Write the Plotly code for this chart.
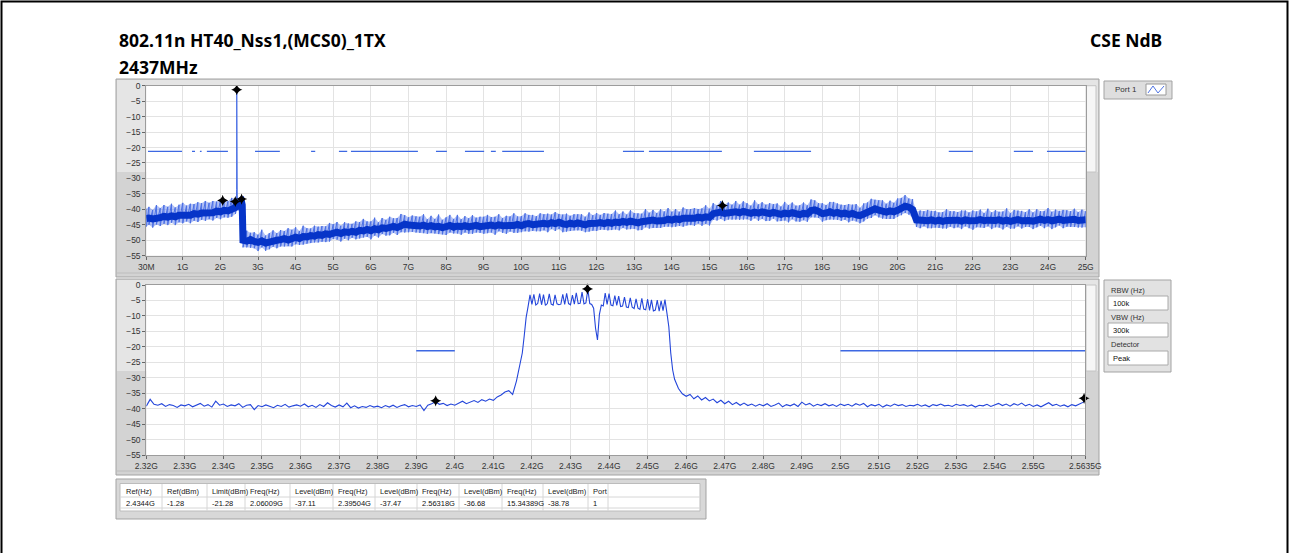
import numpy as np
import plotly.graph_objects as go

W, H = 1290, 553
UI_FONT = "Liberation Sans"
TITLE_FONT = "Noto Sans"

# =============================================================================
# DATA
# =============================================================================
# ---- top graph : 30 MHz .. 25 GHz (GHz / dBm) ----
# below the carrier
top_freq_low = [0.03, 0.1, 0.2, 0.3, 0.4, 0.5, 0.6, 0.7, 0.8, 0.9, 1.0, 1.1, 1.2,
                1.3, 1.4, 1.5, 1.6, 1.7, 1.8, 1.9, 2.0, 2.1, 2.2, 2.3, 2.4]
top_mid_low = [-43.0, -42.8, -43.1, -42.6, -42.7, -42.3, -42.5, -42.1, -42.4, -41.9,
               -42.0, -41.7, -41.9, -41.4, -41.6, -41.2, -41.3, -40.9, -41.1, -40.6,
               -40.8, -40.3, -40.5, -40.0, -39.4]
top_up_low = [3.2, 3.6, 2.9, 4.0, 3.1, 3.7, 3.3, 3.9, 3.0, 3.4, 4.1, 2.9, 3.7, 3.1,
              3.9, 3.2, 4.0, 3.0, 3.8, 3.1, 3.6, 3.5, 3.1, 3.7, 3.0]
top_dn_low = [2.6, 2.2, 2.8, 2.3, 2.7, 2.4, 2.6, 2.2, 2.7, 2.3, 2.5, 2.2, 2.6, 2.3,
              2.5, 2.2, 2.4, 2.3, 2.5, 2.2, 2.4, 2.3, 2.2, 2.4, 2.1]

# around the carrier (spike at 2.4344 GHz)
top_freq_car = [2.42, 2.43, 2.434, 2.438, 2.45, 2.48, 2.52, 2.56, 2.58]
top_mid_car = [-38.6, -37.4, None, -37.2, -38.0, -38.3, -37.8, -37.5, -38.6]
top_hi_car = [-36.8, -33.5, -1.28, -33.0, -35.8, -36.4, -36.0, -35.6, -36.9]
top_lo_car = [-40.4, -39.6, -38.8, -39.7, -40.1, -40.3, -39.9, -39.7, -40.4]

# above the carrier, sweep points every 100 MHz from 2.6 GHz to 25 GHz
top_freq_high = np.round(np.arange(2.6, 25.0001, 0.1), 2)
top_mid_high = [
    -50.0, -50.3, -49.8, -50.4, -50.7, -50.2, -50.9, -50.6, -50.1, -50.0,
    -49.8, -49.5, -49.9, -49.3, -49.0, -49.4, -48.8, -48.9, -48.5, -48.7,
    -48.2, -48.4, -47.9, -48.1, -47.6, -47.4, -47.8, -47.3, -47.5, -47.1,
    -47.4, -46.8, -47.0, -46.5, -46.9, -46.3, -46.6, -46.0, -46.2, -45.8,
    -45.5, -45.9, -45.2, -44.8, -45.1, -45.3, -45.0, -45.4, -45.1, -45.6,
    -45.3, -45.7, -45.5, -45.9, -45.6, -45.2, -45.8, -45.4, -45.6, -45.3,
    -45.7, -45.4, -45.2, -45.6, -45.3, -45.5, -45.1, -45.4, -45.0, -45.3,
    -45.4, -45.0, -45.2, -44.9, -45.3, -44.8, -44.6, -45.0, -44.7, -44.9,
    -44.5, -44.8, -44.3, -44.6, -44.2, -44.7, -44.9, -44.5, -44.8, -44.4,
    -44.7, -45.0, -44.6, -44.8, -44.5, -44.3, -44.6, -44.2, -44.5, -44.1,
    -44.3, -43.9, -44.2, -43.8, -44.1, -44.4, -44.0, -43.7, -43.9, -43.5,
    -43.8, -43.4, -43.6, -43.2, -43.5, -43.1, -43.3, -42.9, -43.0, -42.7,
    -42.9, -42.5, -42.8, -42.4, -42.6, -41.4, -41.2, -40.9, -41.3, -41.0,
    -41.2, -40.8, -41.1, -40.7, -41.0, -41.3, -40.9, -41.2, -40.8, -41.1,
    -41.4, -41.0, -41.3, -41.6, -41.2, -41.5, -41.1, -41.4, -41.7, -41.3,
    -41.5, -40.4, -40.2, -40.7, -41.4, -41.2, -40.8, -41.3, -41.0, -41.5,
    -41.2, -41.6, -41.3, -41.8, -42.0, -41.5, -40.8, -40.2, -39.8, -40.3,
    -40.6, -40.9, -40.5, -40.8, -40.3, -39.4, -39.0, -39.3, -40.1, -43.4,
    -43.6, -43.3, -43.7, -43.4, -43.8, -43.5, -43.9, -43.6, -43.4, -43.7,
    -43.5, -43.8, -43.4, -43.7, -43.9, -43.6, -43.3, -43.7, -43.5, -43.8,
    -43.6, -43.4, -43.8, -43.5, -43.9, -43.6, -43.3, -43.7, -43.4, -43.6,
    -43.8, -43.5, -43.2, -43.6, -43.3, -43.7, -43.4, -43.2, -43.6, -43.3,
    -43.5, -43.2, -43.6, -43.3, -43.4]
top_up_high = [
    2.6, 3.4, 2.2, 3.0, 2.5, 3.6, 2.4, 2.9, 3.3, 2.3,
    3.1, 2.5, 3.8, 2.7, 3.2, 2.4, 3.5, 2.8, 2.3, 3.4,
    2.6, 3.0, 2.4, 3.7, 2.8, 3.3, 2.5, 3.1, 2.9, 2.4,
    3.5, 2.7, 3.9, 2.6, 3.0, 3.6, 2.4, 3.2, 2.8, 3.4,
    2.6, 3.1, 3.7, 2.9, 2.5, 3.3, 2.7, 3.0, 3.5, 2.4,
    3.2, 2.6, 3.8, 2.5, 3.0, 3.4, 2.7, 3.6, 2.4, 3.1,
    2.8, 3.5, 2.5, 3.2, 2.9, 3.7, 2.6, 3.0, 3.4, 2.5,
    3.3, 2.7, 3.9, 2.6, 3.1, 3.5, 2.8, 3.2, 2.5, 3.6,
    2.9, 3.4, 2.6, 3.7, 2.7, 3.0, 3.5, 2.4, 3.2, 2.8,
    3.1, 2.6, 3.6, 2.9, 3.3, 2.5, 3.4, 2.8, 3.0, 3.7,
    2.7, 3.2, 2.5, 3.5, 2.9, 3.1, 2.6, 3.8, 2.8, 3.3,
    2.6, 3.4, 2.9, 3.6, 2.7, 3.2, 2.5, 3.5, 3.0, 2.8,
    3.3, 2.6, 3.1, 3.7, 2.8, 3.4, 2.5, 3.6, 2.9, 3.2,
    2.7, 3.5, 2.6, 3.3, 3.0, 2.5, 3.8, 2.8, 3.1, 2.6,
    3.4, 2.7, 3.2, 2.5, 3.6, 2.9, 3.3, 2.6, 3.0, 3.5,
    2.8, 3.6, 3.1, 2.7, 3.4, 2.6, 3.2, 3.7, 2.9, 3.0,
    2.6, 3.3, 2.8, 3.5, 2.5, 3.4, 3.0, 3.6, 2.9, 3.2,
    3.5, 2.7, 3.3, 2.9, 3.8, 3.1, 3.6, 2.8, 3.4, 2.6,
    3.2, 2.7, 3.5, 2.9, 3.3, 2.5, 3.0, 3.6, 2.8, 3.1,
    2.6, 3.4, 3.0, 2.7, 3.5, 2.9, 3.2, 2.5, 3.7, 2.8,
    3.3, 2.6, 3.1, 3.8, 2.7, 3.4, 2.9, 3.2, 2.5, 3.6,
    2.8, 3.5, 2.6, 3.1, 3.7, 2.9, 3.3, 2.7, 3.4, 3.0,
    2.9, 3.4, 2.7, 3.2, 2.8]
top_dn_high = [
    2.3, 2.0, 2.6, 2.2, 2.8, 2.1, 2.5, 2.3, 2.0, 2.6,
    2.2, 2.5, 2.0, 2.7, 2.3, 2.1, 2.6, 2.2, 2.4, 2.0,
    2.5, 2.1, 2.7, 2.3, 2.0, 2.4, 2.6, 2.2, 2.5, 2.1,
    2.3, 2.6, 2.1, 2.4, 2.8, 2.2, 2.5, 2.0, 2.3, 2.6,
    2.1, 2.4, 2.2, 2.7, 2.3, 2.0, 2.5, 2.2, 2.6, 2.3,
    2.4, 2.1, 2.5, 2.2, 2.7, 2.3, 2.0, 2.4, 2.6, 2.2,
    2.2, 2.5, 2.3, 2.0, 2.6, 2.2, 2.4, 2.8, 2.1, 2.3,
    2.5, 2.2, 2.4, 2.7, 2.1, 2.3, 2.6, 2.0, 2.4, 2.2,
    2.3, 2.6, 2.1, 2.4, 2.2, 2.7, 2.3, 2.5, 2.0, 2.4,
    2.2, 2.4, 2.6, 2.1, 2.5, 2.3, 2.0, 2.6, 2.2, 2.4,
    2.5, 2.1, 2.3, 2.6, 2.2, 2.4, 2.7, 2.1, 2.3, 2.5,
    2.2, 2.6, 2.0, 2.4, 2.3, 2.5, 2.1, 2.7, 2.2, 2.4,
    2.4, 2.1, 2.5, 2.3, 2.6, 2.0, 2.4, 2.2, 2.5, 2.3,
    2.1, 2.5, 2.3, 2.6, 2.2, 2.4, 2.0, 2.5, 2.3, 2.7,
    2.3, 2.0, 2.6, 2.2, 2.4, 2.7, 2.1, 2.5, 2.3, 2.2,
    2.5, 2.2, 2.4, 2.1, 2.6, 2.3, 2.5, 2.0, 2.4, 2.2,
    2.2, 2.6, 2.3, 2.1, 2.5, 2.4, 2.2, 2.6, 2.1, 2.3,
    2.4, 2.2, 2.6, 2.3, 2.1, 2.5, 2.2, 2.4, 2.7, 2.3,
    2.5, 2.2, 2.4, 2.7, 2.1, 2.5, 2.3, 2.6, 2.2, 2.4,
    2.3, 2.6, 2.1, 2.4, 2.7, 2.2, 2.5, 2.3, 2.0, 2.6,
    2.2, 2.5, 2.7, 2.1, 2.4, 2.6, 2.2, 2.5, 2.3, 2.1,
    2.6, 2.3, 2.1, 2.5, 2.2, 2.7, 2.4, 2.0, 2.5, 2.3,
    2.2, 2.5, 2.3, 2.6, 2.4]

# limit line pieces that are drawn in the top graph (GHz)
limit_level = -21.28
top_limit_pieces = [(0.075, 0.98), (1.245, 1.325), (1.455, 1.50), (1.64, 2.20),
                    (2.92, 3.58), (4.41, 4.52), (5.15, 5.37), (5.47, 7.25),
                    (7.73, 8.02), (8.50, 9.01), (9.19, 9.32), (9.49, 10.60),
                    (12.70, 13.26), (13.39, 15.33), (16.18, 17.70), (21.36, 22.00),
                    (23.09, 23.60), (23.97, 25.00)]
top_tick_vals = [0.03] + list(range(1, 26))
top_tick_text = ["30M"] + ["%dG" % g for g in range(1, 26)]

# ---- bottom graph : 2.32 .. 2.5635 GHz ----
bot_seg1_start, bot_seg1_step = 2.320, 0.001
bot_seg1 = [
    -39.2, -37.0, -38.6, -38.9, -38.4, -39.3, -38.7, -39.0, -39.6, -38.8,
    -39.1, -38.6, -39.4, -38.9, -38.3, -39.2, -38.7, -39.5, -37.6, -38.9,
    -38.5, -39.3, -38.8, -39.1, -38.4, -39.6, -38.9, -38.7, -40.3, -39.0,
    -39.4, -38.8, -39.2, -39.7, -38.9, -39.3, -38.6, -39.5, -39.1, -38.8,
    -39.2, -38.5, -39.4, -38.9, -39.6, -38.7, -39.3, -38.1, -39.0, -39.5,
    -38.8, -39.4, -38.2, -39.7, -39.1, -39.8, -39.3, -39.6, -39.0, -39.5,
    -39.2, -39.7, -39.0, -39.5, -38.9, -39.6, -39.1, -38.7, -39.4, -39.0,
    -39.3, -38.8, -40.6, -38.9, -38.4, -37.8, -38.6, -38.3, -39.0, -38.5,
    -38.9, -38.2, -37.6, -38.4, -37.8, -37.4, -38.0, -37.1, -37.6, -36.9,
    -37.3, -36.2, -35.6, -34.6, -34.2, -35.4, -31.0, -25.5]
bot_seg2_start, bot_seg2_step = 2.4175, 0.0005
bot_seg2 = [
    -22.0, -16.5, -10.5, -7.0, -3.2, -6.3, -3.0, -6.5, -6.0, -2.8,
    -6.4, -3.1, -6.6, -6.0, -2.9, -6.2, -6.5, -3.2, -6.1, -6.4,
    -6.2, -3.0, -6.3, -2.7, -6.0, -6.4, -3.3, -6.2, -2.5, -6.0,
    -5.9, -2.3, -6.1, -5.8, -1.4, -6.0, -6.3, -7.5, -14.0, -17.8,
    -9.5, -6.5, -6.8, -2.6, -6.3, -2.8, -6.5, -6.7, -3.4, -6.6,
    -3.6, -7.0, -6.8, -3.9, -7.1, -7.3, -4.2, -7.2, -7.6, -4.5,
    -7.5, -7.9, -4.3, -7.8, -8.0, -4.6, -8.2, -4.8, -8.4, -8.1,
    -4.9, -8.5, -5.1, -8.3, -4.7, -9.0, -13.5, -22.0, -27.5]
bot_seg3_start, bot_seg3_step = 2.457, 0.001
bot_seg3 = [
    -30.5, -33.5, -35.2, -36.0, -35.4, -36.8, -35.9, -37.2, -36.4, -37.5,
    -36.9, -38.1, -37.3, -38.4, -37.6, -38.7, -38.0, -38.9, -38.2, -39.0,
    -38.5, -39.2, -38.6, -39.1, -38.4, -39.3, -38.8, -38.2, -39.4, -38.7,
    -39.1, -38.5, -39.3, -37.9, -38.8, -38.3, -39.2, -38.6, -39.0, -38.4,
    -39.1, -38.7, -39.3, -38.5, -39.0, -38.6, -39.2, -38.4, -38.9, -38.3,
    -39.4, -38.7, -39.1, -38.6, -39.5, -38.8, -39.2, -38.5, -39.0, -38.7,
    -39.3, -38.9, -39.1, -38.6, -39.2, -38.8, -39.4, -38.7, -39.0, -38.5,
    -39.1, -38.9, -39.3, -38.6, -39.0, -38.7, -39.2, -38.8, -39.5, -38.9,
    -39.1, -38.6, -39.3, -38.7, -38.3, -39.0, -38.5, -39.2, -38.4, -38.9,
    -38.2, -39.1, -38.6, -39.3, -38.8, -39.4, -38.7, -38.1, -39.0, -38.6,
    -39.2, -38.8, -39.4, -38.7, -39.1, -38.5, -37.9]
bot_end_freq, bot_end_level = 2.5635, -37.2

bot_limit_pieces = [(2.39, 2.40), (2.50, 2.5635)]
bot_tick_vals = [round(2.32 + 0.01 * i, 2) for i in range(25)] + [2.5635]
bot_tick_text = ["%gG" % v for v in bot_tick_vals[:-2]] + ["", "2.5635G"]

# ---- markers / result table ----
marker_freq = [2.4344, 2.06009, 2.39504, 2.56318, 15.34389]
marker_level = [-1.28, -37.11, -37.47, -36.68, -38.78]

table_headers = ["Ref(Hz)", "Ref(dBm)", "Limit(dBm)", "Freq(Hz)", "Level(dBm)", "Freq(Hz)",
                 "Level(dBm)", "Freq(Hz)", "Level(dBm)", "Freq(Hz)", "Level(dBm)", "Port"]
table_values = ["2.4344G", "-1.28", "-21.28", "2.06009G", "-37.11", "2.39504G",
                "-37.47", "2.56318G", "-36.68", "15.34389G", "-38.78", "1"]
table_col_x = [121, 162, 207, 245, 290, 333, 375, 417, 459, 502, 543, 588, 608]

settings_labels = ["RBW (Hz)", "VBW (Hz)", "Detector"]
settings_values = ["100k", "300k", "Peak"]

# =============================================================================
# HELPERS
# =============================================================================
def px(x):
    return x / W


def py(y):
    return 1 - y / H


def rect(x0, y0, x1, y1, fill, line=None, lw=1):
    return dict(type="rect", xref="paper", yref="paper", layer="below",
                x0=px(x0), y0=py(y0), x1=px(x1), y1=py(y1), fillcolor=fill,
                line=dict(color=line or fill, width=lw if line else 0))


def hline(x0, x1, y, color, lw=1):
    return dict(type="line", xref="paper", yref="paper", layer="below",
                x0=px(x0), x1=px(x1), y0=py(y), y1=py(y), line=dict(color=color, width=lw))


def vline(x, y0, y1, color, lw=1):
    return dict(type="line", xref="paper", yref="paper", layer="below",
                x0=px(x), x1=px(x), y0=py(y0), y1=py(y1), line=dict(color=color, width=lw))


def text(x, y, s, size=8, color="#222", anchor="left", bold=False, family=UI_FONT):
    return dict(xref="paper", yref="paper", x=px(x), y=py(y), text="<b>%s</b>" % s if bold else s,
                showarrow=False, xanchor=anchor, yanchor="middle",
                font=dict(size=size, color=color, family=family))


def pieces_xy(pieces, level):
    xs, ys = [], []
    for a, b in pieces:
        xs += [a, b, None]
        ys += [level, level, None]
    return xs, ys


# =============================================================================
# FIGURE
# =============================================================================
top_freq = list(top_freq_low) + list(top_freq_car) + list(top_freq_high)
top_mid = list(top_mid_low) + list(top_mid_car) + list(top_mid_high)
top_hi = ([m + u for m, u in zip(top_mid_low, top_up_low)] + top_hi_car
          + [m + u for m, u in zip(top_mid_high, top_up_high)])
top_lo = ([m - d for m, d in zip(top_mid_low, top_dn_low)] + top_lo_car
          + [m - d for m, d in zip(top_mid_high, top_dn_high)])

# noise band drawn as the analyzer does: each sweep bin as a stroke from peak to floor
zig_x, zig_y = [], []
for f, hi, lo in zip(top_freq, top_hi, top_lo):
    zig_x += [f, f]
    zig_y += [hi, lo]

bot_freq = ([bot_seg1_start + bot_seg1_step * i for i in range(len(bot_seg1))]
            + [bot_seg2_start + bot_seg2_step * i for i in range(len(bot_seg2))]
            + [bot_seg3_start + bot_seg3_step * i for i in range(len(bot_seg3))]
            + [bot_end_freq])
bot_level = bot_seg1 + bot_seg2 + bot_seg3 + [bot_end_level]

EDGE = "#4a6fe4"
CORE = "#0634c8"

fig = go.Figure()

# top graph trace : light noise envelope, peak strokes, dark core
fig.add_trace(go.Scatter(x=top_freq, y=top_lo, mode="lines", line=dict(width=0),
                         xaxis="x", yaxis="y"))
fig.add_trace(go.Scatter(x=top_freq, y=top_hi, mode="lines", line=dict(width=0),
                         fill="tonexty", fillcolor="rgba(84,118,232,0.45)", xaxis="x", yaxis="y"))
fig.add_trace(go.Scatter(x=zig_x, y=zig_y, mode="lines", line=dict(color=EDGE, width=1),
                         xaxis="x", yaxis="y"))
fig.add_trace(go.Scatter(x=top_freq, y=top_mid, mode="lines", line=dict(color=CORE, width=7),
                         connectgaps=False, xaxis="x", yaxis="y"))
lx, ly = pieces_xy(top_limit_pieces, limit_level)
fig.add_trace(go.Scatter(x=lx, y=ly, mode="lines", line=dict(color="#3d68e2", width=1.2),
                         xaxis="x", yaxis="y"))
fig.add_trace(go.Scatter(x=marker_freq, y=marker_level, mode="markers",
                         marker=dict(symbol="star-diamond", size=8, color="black"),
                         xaxis="x", yaxis="y"))

# bottom graph trace
fig.add_trace(go.Scatter(x=bot_freq, y=bot_level, mode="lines", line=dict(color="#2446da", width=1.1),
                         xaxis="x2", yaxis="y2"))
lx, ly = pieces_xy(bot_limit_pieces, limit_level)
fig.add_trace(go.Scatter(x=lx, y=ly, mode="lines", line=dict(color="#3d68e2", width=1.4),
                         xaxis="x2", yaxis="y2"))
bm = [(f, l) for f, l in zip(marker_freq, marker_level) if 2.32 <= f <= 2.5635]
fig.add_trace(go.Scatter(x=[f for f, l in bm], y=[l for f, l in bm], mode="markers",
                         marker=dict(symbol="star-diamond", size=8, color="black"),
                         cliponaxis=False, xaxis="x2", yaxis="y2"))

axis_common = dict(showgrid=True, gridcolor="#e3e3e3", gridwidth=1, zeroline=False,
                   showline=True, linecolor="#9c9c9c", mirror=True, ticks="outside",
                   ticklen=3, tickcolor="#666", tickangle=0, automargin=False,
                   tickfont=dict(family=UI_FONT, size=8.5, color="#333"))

fig.update_layout(
    width=W, height=H, autosize=False,
    margin=dict(l=0, r=0, t=0, b=0, pad=0, autoexpand=False),
    paper_bgcolor="white", plot_bgcolor="rgba(0,0,0,0)",
    showlegend=False, hovermode=False,
    xaxis=dict(axis_common, domain=[px(146.3), px(1085.7)], range=[0.03, 25],
               tickvals=top_tick_vals, ticktext=top_tick_text, anchor="y"),
    yaxis=dict(axis_common, domain=[py(255.7), py(85.7)], range=[-55, 0],
               tickvals=list(range(-55, 1, 5)), anchor="x"),
    xaxis2=dict(axis_common, domain=[px(146.3), px(1085.3)], range=[2.32, 2.5635],
                tickvals=bot_tick_vals, ticktext=bot_tick_text, anchor="y2"),
    yaxis2=dict(axis_common, domain=[py(455), py(285)], range=[-55, 0],
                tickvals=list(range(-55, 1, 5)), anchor="x2"),
)

shapes = []
# graph frames
for top, split, bottom, ptop, pbot in [(79, 172, 277, 85.7, 255.7), (279, 371, 475, 285, 455)]:
    shapes.append(rect(116, top, 1099, bottom, "#d3d3d3", "#a3a3a3"))
    shapes.append(rect(117, top + 1, 1098, split, "#e5e5e5"))
    shapes.append(rect(1086, ptop, 1096, split, "#f6f6f6", "#c4c4c4"))
    shapes.append(rect(146.3, ptop, 1085.5, pbot, "white"))
    shapes.append(hline(117, 1098, bottom - 4, "#bdbdbd"))

# legend box "Port 1"
shapes.append(rect(1104, 81, 1172, 99, "#dedede", "#a3a3a3"))
shapes.append(rect(1146, 84, 1166, 95, "white", "#9a9a9a"))
shapes.append(dict(type="path", xref="paper", yref="paper",
                   path="M %f %f L %f %f L %f %f L %f %f" % (px(1148), py(93), px(1153), py(86),
                                                             px(1158), py(93), px(1164), py(86)),
                   line=dict(color="#4f74e4", width=1)))

# settings panel
shapes.append(rect(1104, 280, 1171, 372, "#e2e2e2", "#a3a3a3"))
for yb in [296, 323, 351]:
    shapes.append(rect(1108, yb, 1168, yb + 14, "white", "#aaaaaa"))

# result table
shapes.append(rect(116, 479, 706, 519, "#d8d8d8", "#a3a3a3"))
shapes.append(rect(120, 483.5, 700, 511, "white", "#bcbcbc"))
shapes.append(hline(120, 700, 497, "#d6d6d6"))
shapes.append(hline(120, 700, 508, "#d6d6d6"))
for cx in table_col_x[1:]:
    shapes.append(vline(cx, 484, 511, "#d6d6d6"))

# window border (left, top, right)
shapes.append(dict(type="path", xref="paper", yref="paper", layer="above",
                   path="M %f %f L %f %f L %f %f L %f %f" % (px(1.5), 0, px(1.5), py(1.5),
                                                             px(1287.5), py(1.5), px(1287.5), 0),
                   line=dict(color="black", width=2)))

annotations = [
    text(117, 40, "802.11n HT40_Nss1,(MCS0)_1TX", size=17.5, color="black", bold=True, family=TITLE_FONT),
    text(117, 67, "2437MHz", size=17.5, color="black", bold=True, family=TITLE_FONT),
    text(1164, 40, "CSE NdB", size=17.5, color="black", bold=True, anchor="right", family=TITLE_FONT),
    text(1113, 90, "Port 1", size=8, color="#333"),
]
for i, s in enumerate(settings_labels):
    annotations.append(text(1109, 290.5 + 27 * i, s, size=7.5, color="#333"))
    annotations.append(text(1111, 303 + 27.5 * i, settings_values[i], size=7.5, color="#111"))
for i, (h, v) in enumerate(zip(table_headers, table_values)):
    annotations.append(text(table_col_x[i] + 3, 491, h, size=7.5, color="#222"))
    annotations.append(text(table_col_x[i] + 3, 503, v, size=7.5, color="#111"))

fig.update_layout(shapes=shapes, annotations=annotations)

fig.write_html("out.html", config={"displayModeBar": False},
               post_script="document.body.style.margin='0';document.body.style.overflow='hidden';")
